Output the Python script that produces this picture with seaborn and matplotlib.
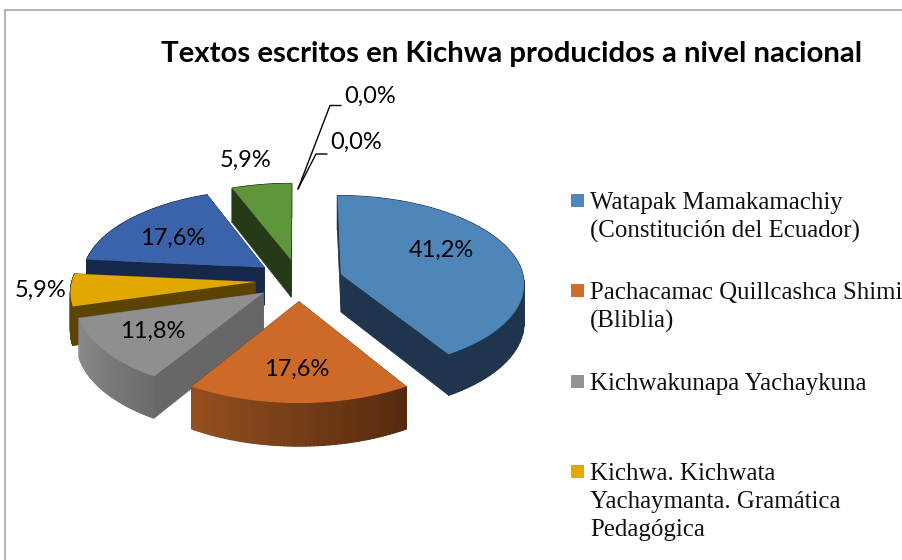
import numpy as np
import seaborn as sns
import matplotlib.pyplot as plt
from matplotlib.collections import PolyCollection
from matplotlib.patches import Polygon, Rectangle
from matplotlib.transforms import Transform

sns.set_theme(style='white')

title = 'Textos escritos en Kichwa producidos a nivel nacional'
slices = ['Watapak', 'Pachacamac', 'Kichwakunapa', 'Kichwa', 'Azul', 'Verde', 'Cero1', 'Cero2']
values = [41.2, 17.6, 11.8, 5.9, 17.6, 5.9, 0.0, 0.0]
legend_labels = ['Watapak Mamakamachiy\n(Constitución del Ecuador)',
                 'Pachacamac Quillcashca Shimi\n(Bliblia)',
                 'Kichwakunapa Yachaykuna',
                 'Kichwa. Kichwata\nYachaymanta. Gramática\nPedagógica']

top_colors = ['#4f86ba', '#cd6a27', '#8f8f8f', '#e0a800', '#3b63a9', '#5f963c', '#777777', '#777777']
cut_colors = ['#1f354e', '#7a3f17', '#676767', '#5c4300', '#16284a', '#263a17', '#777777', '#777777']
rim_left = ['#1f354e', '#965020', '#8c8c8c', '#5c4300', '#16284a', '#263a17', '#777777', '#777777']
rim_right = ['#1f354e', '#552a0e', '#6c6c6c', '#5c4300', '#16284a', '#263a17', '#777777', '#777777']
legend_colors = ['#4f86bc', '#d16c29', '#939393', '#e3a900']

# drawing order, back to front
draw_order = [5, 4, 3, 2, 1, 0]

# pie projection, in pixels
cx, cy = 299, 280
rx, ry = 183, 87.4
persp = 0.096
depth = 38


class Tilt(Transform):
    input_dims = 2
    output_dims = 2
    is_separable = False

    def transform_non_affine(self, xy):
        xy = np.asarray(xy, dtype=float)
        s = 1 / (1 + persp * xy[:, 1])
        return np.column_stack([cx + xy[:, 0] * rx * s, cy - xy[:, 1] * ry * s])


fig = plt.figure(figsize=(9.03, 5.6), dpi=100, facecolor='white')
ax = fig.add_axes([0, 0, 1, 1])

wedges, _ = ax.pie(values, explode=[0.24] * len(values), startangle=90, counterclock=False,
                   colors=sns.color_palette(top_colors), wedgeprops={'linewidth': 0})
ax.set_aspect('auto')
ax.set_xlim(0, 903)
ax.set_ylim(560, 0)
ax.set_axis_off()

tilt = Tilt()


def side(points):
    # points in pie coordinates, extruded downwards on screen
    pts = np.asarray(points)
    top = tilt.transform_non_affine(pts)
    low = top.copy()
    low[:, 1] += depth / (1 + persp * pts[:, 1])
    return top, low


for z, i in enumerate(draw_order):
    w = wedges[i]
    t = np.radians(np.linspace(w.theta1, w.theta2, 61))
    center = np.array(w.center)
    arc = center + np.column_stack([np.cos(t), np.sin(t)])

    # the two cut faces go first, the rim covers them at the front
    faces = []
    for end in (arc[0], arc[-1]):
        top, low = side([center, end])
        faces.append([top[0], top[1], low[1], low[0]])
    ax.add_collection(PolyCollection(faces, facecolors=cut_colors[i], edgecolors=cut_colors[i],
                                     linewidths=0.5, zorder=10 + z * 4))

    # outer rim, a solid backing and then the shading strips
    top, low = side(arc)
    shades = sns.blend_palette([rim_left[i], rim_right[i]], len(arc) - 1)
    ax.add_patch(Polygon(np.vstack([top, low[::-1]]), facecolor=shades[len(shades) // 2],
                         edgecolor='none', zorder=11 + z * 4))
    polys = [[top[k], top[k + 1], low[k + 1], low[k]] for k in range(len(arc) - 1)]
    order = np.argsort(top[:-1, 0])
    colors = np.empty((len(polys), 3))
    colors[order] = shades
    ax.add_collection(PolyCollection(polys, facecolors=colors, edgecolors=colors,
                                     linewidths=0.8, zorder=12 + z * 4))

    w.set_transform(tilt + ax.transData)
    w.set_zorder(13 + z * 4)

# value labels
label_pos = [(441, 250), (297, 369), (153, 331), (41, 290), (173, 238), (246, 160), (356, 142), (370, 96)]
for v, (x, y) in zip(values, label_pos):
    ax.text(x, y, f'{v:.1f}%'.replace('.', ','), ha='center', va='center',
            fontsize=17, family='Lato', color='black', zorder=60)

# leader lines for the empty slices
ax.plot([298, 316, 327], [189, 154, 154], color='black', lw=1, zorder=59)
ax.plot([298, 330, 341], [189, 105.5, 105.5], color='black', lw=1, zorder=59)

# legend
legend_y = [194, 284, 375, 465]
for lab, col, y in zip(legend_labels, legend_colors, legend_y):
    ax.add_patch(Rectangle((571, y), 13, 13, facecolor=col, edgecolor='none', zorder=60))
    ax.text(590, y - 7 + 5, lab, ha='left', va='top', fontsize=17.9, family='Liberation Serif',
            color='#111111', linespacing=1.34, zorder=60)

ax.text(161, 62, title, ha='left', va='baseline', fontsize=21.2, fontweight='bold',
        family='Lato', color='black', zorder=60)

# chart frame
ax.plot([5, 5, 903], [560, 10, 10], color='#a6a6a6', lw=1.2, zorder=5)

plt.savefig('out.png', dpi=100)
